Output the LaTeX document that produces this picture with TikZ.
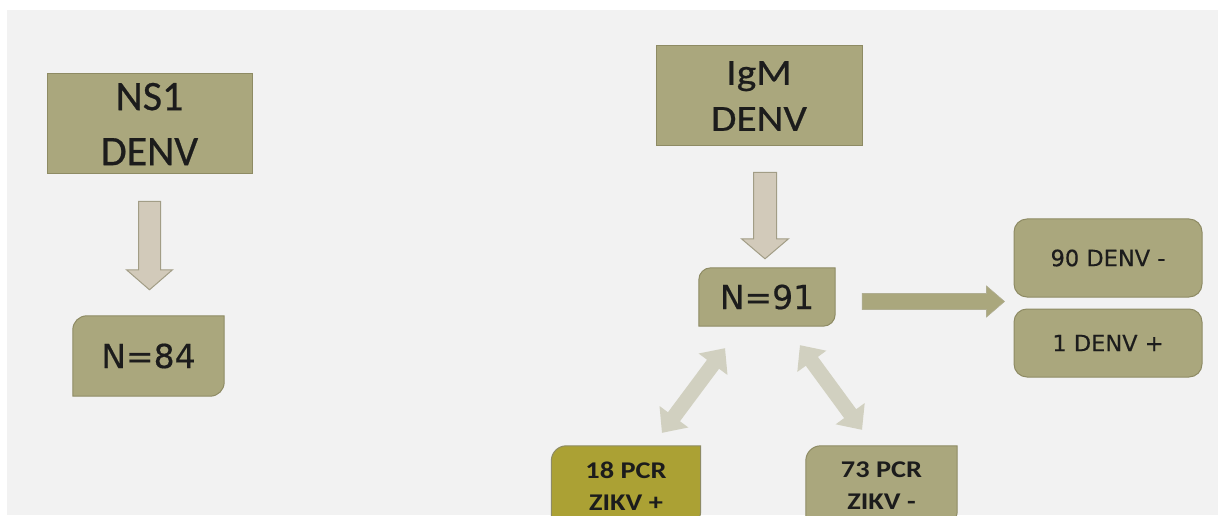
\documentclass[tikz,border=0pt]{standalone}
\usepackage{fontspec}
\setmainfont{Carlito}[FakeBold=0.6]
\newfontfamily\dvsans{DejaVu Sans}[FakeBold=0.4]
\newfontfamily\widecal{Carlito}[FakeStretch=1.12, FakeBold=0.6]
\newfontfamily\pcrfont{Carlito}[FakeStretch=1.18]
\usetikzlibrary{calc}

\definecolor{khaki}{HTML}{AAA77D}
\definecolor{khakiline}{HTML}{8E8B64}
\definecolor{olive}{HTML}{ABA134}
\definecolor{tanfill}{HTML}{D2CABA}
\definecolor{tanline}{HTML}{A29D86}
\definecolor{mist}{HTML}{D1D0C0}
\definecolor{canvas}{HTML}{F2F2F2}
\definecolor{ink}{HTML}{1C1C1C}

\pgfdeclarelayer{back}
\pgfdeclarelayer{mid}
\pgfsetlayers{back,mid,main}

% box with rounded top-left and bottom-right corners, drawn behind node #1
\newcommand\diagshape[4]{%
  \begin{pgfonlayer}{mid}
    \filldraw[fill=#3, draw=#4, line width=1pt]
      (#1.south west) -- ([yshift=-#2]#1.north west)
      arc[start angle=180, end angle=90, radius=#2]
      -- (#1.north east) -- ([yshift=#2]#1.south east)
      arc[start angle=0, end angle=-90, radius=#2] -- cycle;
  \end{pgfonlayer}}

% block arrow: style, from, to, shaft half width, head half width, head length
\newcommand\blockarrow[6]{%
  \coordinate (bah) at ($(#3)!#6!(#2)$);
  \path[#1] ($(#2)!#4!90:(#3)$) -- ($(bah)!#4!90:(#3)$)
    -- ($(bah)!#5!90:(#3)$) -- (#3) -- ($(bah)!#5!-90:(#3)$)
    -- ($(bah)!#4!-90:(#3)$) -- ($(#2)!#4!-90:(#3)$) -- cycle;}

% double-headed block arrow, same arguments
\newcommand\twowayarrow[6]{%
  \coordinate (tah) at ($(#2)!#6!(#3)$);
  \coordinate (tbh) at ($(#3)!#6!(#2)$);
  \path[#1] (#2) -- ($(tah)!#5!90:(#3)$) -- ($(tah)!#4!90:(#3)$)
    -- ($(tbh)!#4!90:(#3)$) -- ($(tbh)!#5!90:(#3)$) -- (#3)
    -- ($(tbh)!#5!-90:(#3)$) -- ($(tbh)!#4!-90:(#3)$)
    -- ($(tah)!#4!-90:(#3)$) -- ($(tah)!#5!-90:(#3)$) -- cycle;}

\tikzset{
  label box/.style={rectangle, inner sep=0pt, text=ink, align=center},
  flat box/.style={label box, fill=khaki, draw=khakiline, line width=1pt},
  soft box/.style={label box, fill=khaki, draw=khakiline, line width=1pt, rounded corners=13pt},
  bigtext/.style={font=\fontsize{42}{55}\selectfont},
  midtext/.style={font=\widecal\fontsize{37}{46}\selectfont},
  counttext/.style={font=\dvsans\fontsize{33}{40}\selectfont},
  smalltext/.style={font=\dvsans\fontsize{22.5}{27}\selectfont},
  pcrtext/.style={font=\pcrfont\bfseries\fontsize{24}{32}\selectfont},
  tan arrow/.style={fill=tanfill, draw=tanline, line width=1pt},
  khaki arrow/.style={fill=khaki, draw=khakiline!70, line width=0.6pt},
  mist arrow/.style={fill=mist},
}

\begin{document}
\begin{tikzpicture}[x=1pt, y=1pt]
  \clip (0,0) rectangle (1219,515);
  \begin{pgfonlayer}{back}
    \fill[white] (0,0) rectangle (1219,515);
    \fill[canvas] (7,0) rectangle (1218,505);
  \end{pgfonlayer}

  % left branch
  \node[flat box, bigtext, minimum width=205pt, minimum height=100pt] (ns1) at (149.5,391) {NS1\\DENV};
  \node[label box, counttext, minimum width=151pt, minimum height=80pt] (n84) at (148.5,159) {N=84};
  \diagshape{n84}{14pt}{khaki}{khakiline}
  \coordinate (a1s) at ([yshift=-27pt]ns1.south);
  \coordinate (a1e) at ([yshift=26pt]a1s |- n84.north);
  \blockarrow{tan arrow}{a1s}{a1e}{11pt}{23pt}{20pt}

  % right branch
  \node[flat box, midtext, minimum width=206pt, minimum height=100pt] (igm) at (759,419) {IgM\\DENV};
  \node[label box, counttext, minimum width=136pt, minimum height=58pt] (n91) at (767,218) {N=91};
  \diagshape{n91}{12pt}{khaki}{khakiline}
  \coordinate (a2s) at ([xshift=6pt,yshift=-26pt]igm.south);
  \coordinate (a2e) at ([yshift=9pt]a2s |- n91.north);
  \blockarrow{tan arrow}{a2s}{a2e}{11.5pt}{23.5pt}{20pt}

  % DENV results
  \node[soft box, smalltext, minimum width=188pt, minimum height=78pt] (d90) at (1108,257) {90 DENV -};
  \node[soft box, smalltext, minimum width=188pt, minimum height=68pt] (d1) at (1108,172) {1 DENV +};
  \coordinate (a3s) at ([xshift=27pt,yshift=-4.5pt]n91.east);
  \coordinate (a3e) at ([xshift=-9pt]a3s -| d90.west);
  \blockarrow{khaki arrow}{a3s}{a3e}{8pt}{15.5pt}{18pt}

  % ZIKV PCR results
  \node[label box, pcrtext, minimum width=149pt, minimum height=80pt] (pcrp) at (626,29) {18 PCR\\ZIKV +};
  \diagshape{pcrp}{15pt}{olive}{khakiline}
  \node[label box, pcrtext, minimum width=151pt, minimum height=80pt] (pcrm) at (881.5,29) {73 PCR\\ZIKV -};
  \diagshape{pcrm}{15pt}{khaki}{khakiline}

  \coordinate (b1) at ([xshift=36pt,yshift=13pt]pcrp.north);
  \coordinate (b2) at ([xshift=-42pt,yshift=-22pt]n91.south);
  \twowayarrow{mist arrow}{b1}{b2}{7.5pt}{18pt}{20pt}
  \coordinate (c1) at ([xshift=33pt,yshift=-19pt]n91.south);
  \coordinate (c2) at ([xshift=-19.5pt,yshift=16pt]pcrm.north);
  \twowayarrow{mist arrow}{c1}{c2}{7.5pt}{18pt}{20pt}
\end{tikzpicture}
\end{document}
